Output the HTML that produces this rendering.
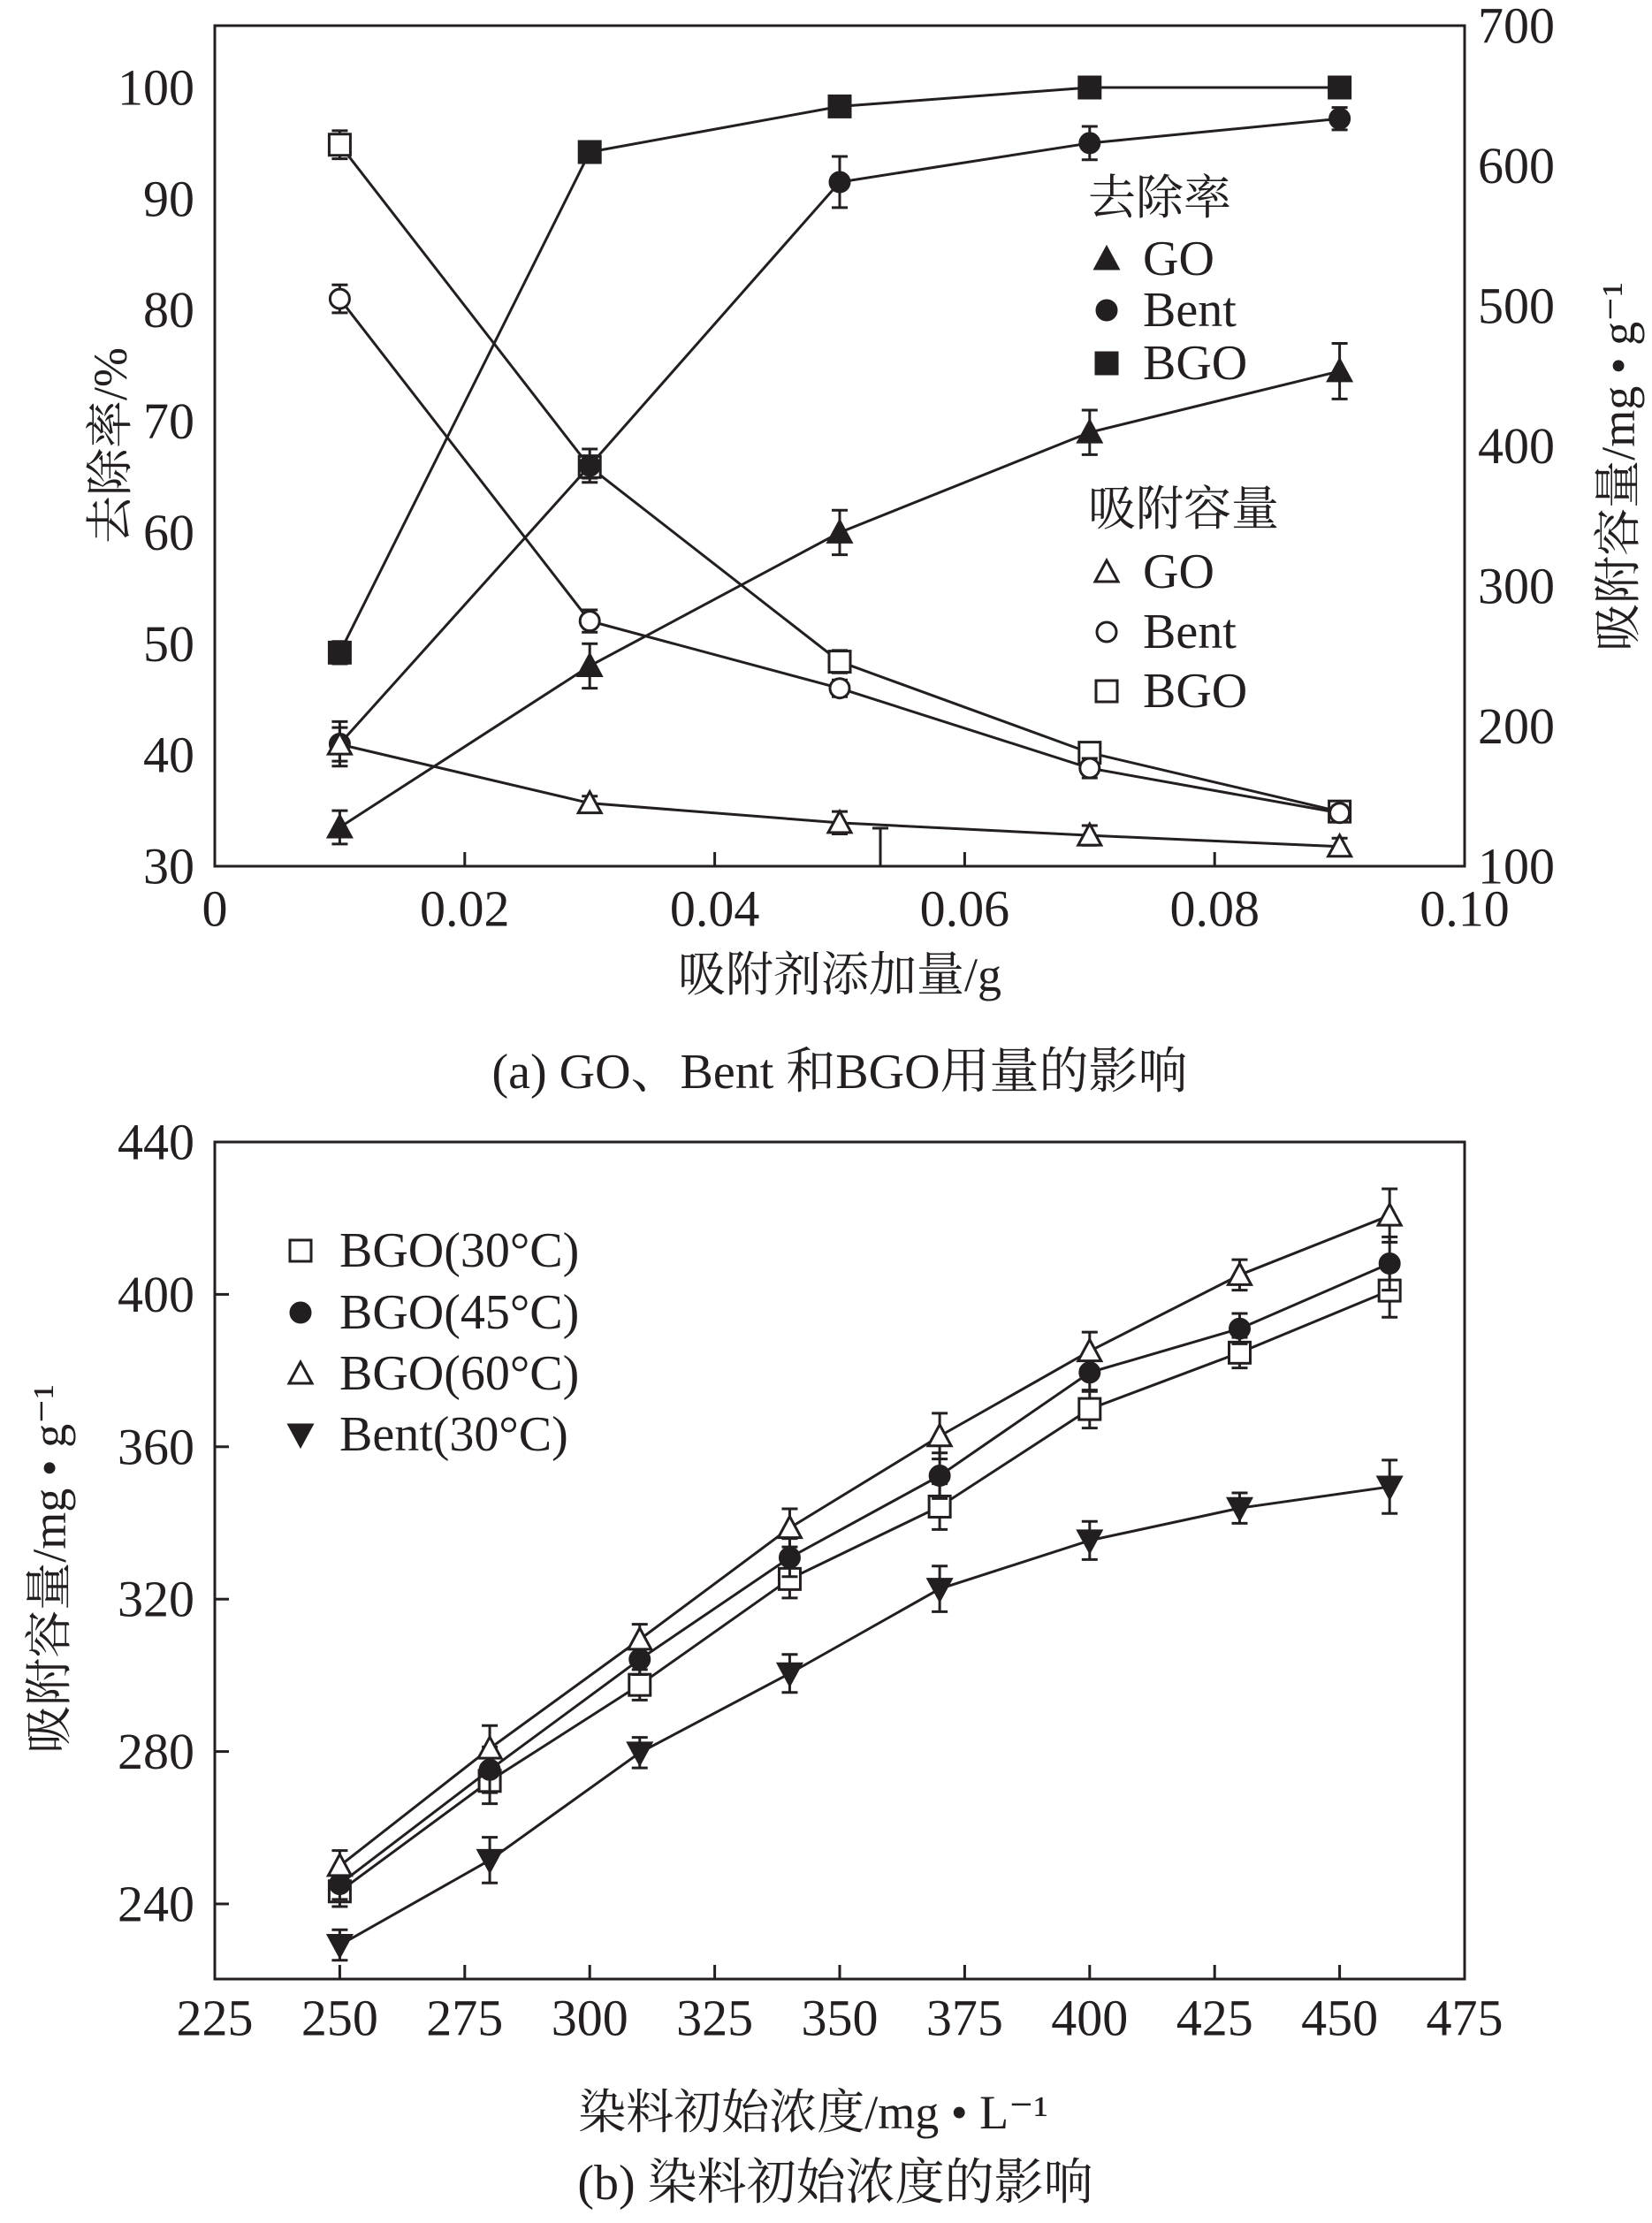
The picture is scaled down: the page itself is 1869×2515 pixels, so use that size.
<!DOCTYPE html>
<html><head><meta charset="utf-8"><style>
body{margin:0;background:#fff}
svg text{font-family:"Liberation Serif","Noto Serif CJK SC",serif;fill:#231f20}
</style></head><body>
<svg id="s" width="1869" height="2510" xmlns="http://www.w3.org/2000/svg"></svg>
<script>
// ---- chart (a) data ----
const aX = [0.01,0.03,0.05,0.07,0.09];
const aGoRem = [33.5,48,60,69,74.5];
const aGoRemErr = [1.5,2,2,2,2.5];
const aBentRem = [41,66,91.5,95,97.2];
const aBentRemErr = [2,1.5,2.3,1.5,1];
const aBgoRem = [49.2,94.2,98.3,100,100];
const aBgoRemErr = [1,0.8,0.5,0.3,0.5];
const aGoCap = [187,145,131,122,114];
const aGoCapErr = [12,5,8,7,6];
const aBentCap = [505,275,227,170,138];
const aBentCapErr = [10,8,6,7,5];
const aBgoCap = [615,385,246,181,139];
const aBgoCapErr = [10,8,8,6,6];
const aXTicks = [0,0.02,0.04,0.06,0.08,0.10];
const aXTickLabels = ["0","0.02","0.04","0.06","0.08","0.10"];
const aYTicks = [30,40,50,60,70,80,90,100];
const aY2Ticks = [100,200,300,400,500,600,700];
// ---- chart (b) data ----
const bX = [250,280,310,340,370,400,430,460];
const bBgo30 = [243.3,272.3,297.5,325.3,344.3,369.9,384.7,401];
const bBgo45 = [245.2,275.2,304.2,330.9,352.4,379.5,391,408.1];
const bBgo60 = [250,280.8,309.4,338.7,362.8,385.1,405.1,420.7];
const bBent = [229.2,251.5,279.7,300.5,322.7,335.4,343.9,349.5];
const bErr = [4,6,4,5,6,5,4,7];
const bXTicks = [225,250,275,300,325,350,375,400,425,450,475];
const bYTicks = [240,280,320,360,400,440];

const S = document.getElementById('s');
const NS = 'http://www.w3.org/2000/svg';
function el(tag, attrs, name, parent){
  const e = document.createElementNS(NS, tag);
  for (const k in attrs) e.setAttribute(k, attrs[k]);
  
  
  (parent||S).appendChild(e);
  return e;
}
function txt(x,y,s,size,name,anchor,rot){
  const t = el('text',{x:x,y:y,'font-size':size,'text-anchor':anchor||'middle','dominant-baseline':'central'},name);
  if (rot) t.setAttribute('transform',`rotate(${rot} ${x} ${y})`);
  t.textContent = s;
  return t;
}
const L=243,R=1657,K='#231f20';
function marker(type,x,y,name){
  const r=13;
  const filled = type[0]==='f';
  const st = {fill: filled?K:'#fff', stroke:K,'stroke-width':3};
  const sh = type.slice(1);
  if (sh==='sq') el('rect',Object.assign({x:x-r+1,y:y-r+1,width:2*r-2,height:2*r-2},st),name);
  else if (sh==='ci') el('circle',Object.assign({cx:x,cy:y,r:r-2},st),name);
  else if (sh==='tri') el('polygon',Object.assign({points:`${x},${y-r} ${x-r},${y+r-2} ${x+r},${y+r-2}`},st),name);
  else if (sh==='dtri') el('polygon',Object.assign({points:`${x},${y+r} ${x-r},${y-r+2} ${x+r},${y-r+2}`},st),name);
}
function series(xs,ys,errs,fx,fy,type,name){
  const pts = xs.map((x,i)=>[fx(x),fy(ys[i])]);
  el('polyline',{points:pts.map(p=>p.join(',')).join(' '),fill:'none',stroke:K,'stroke-width':3},name+'-line');
  pts.forEach((p,i)=>{
    const e=errs[i], y1=fy(ys[i]+e), y2=fy(ys[i]-e);
    el('line',{x1:p[0],x2:p[0],y1:y1,y2:y2,stroke:K,'stroke-width':3},name+'-errorbar');
    el('line',{x1:p[0]-9,x2:p[0]+9,y1:y1,y2:y1,stroke:K,'stroke-width':3},name+'-errorcap');
    el('line',{x1:p[0]-9,x2:p[0]+9,y1:y2,y2:y2,stroke:K,'stroke-width':3},name+'-errorcap');
    marker(type,p[0],p[1],name+'-point');
  });
}
// ===== chart a =====
{
  const T=29,B=980;
  const fx=v=>L+v/0.10*(R-L);
  const fy=v=>B-(v-30)*(B-99)/70;
  const fy2=v=>B-(v-100)*(B-T)/600;
  el('rect',{x:L,y:T,width:R-L,height:B-T,fill:'none',stroke:K,'stroke-width':3},'plot-a-frame');
  aXTicks.forEach((v,i)=>{
    if(i>0&&i<aXTicks.length-1) el('line',{x1:fx(v),x2:fx(v),y1:B,y2:B-16,stroke:K,'stroke-width':3},'x-tick-a');
    txt(fx(v),1028,aXTickLabels[i],58,'x-tick-label-a');
  });
  aYTicks.forEach(v=>txt(220,fy(v),String(v),58,'y-tick-label-a','end'));
  aY2Ticks.forEach(v=>txt(1672,fy2(v),String(v),58,'y2-tick-label-a','start'));
  series(aX,aBgoCap,aBgoCapErr,fx,fy2,'osq','bgo-capacity');
  series(aX,aGoRem,aGoRemErr,fx,fy,'ftri','go-removal');
  series(aX,aBentRem,aBentRemErr,fx,fy,'fci','bent-removal');
  series(aX,aBgoRem,aBgoRemErr,fx,fy,'fsq','bgo-removal');
  series(aX,aGoCap,aGoCapErr,fx,fy2,'otri','go-capacity');
  series(aX,aBentCap,aBentCapErr,fx,fy2,'oci','bent-capacity');
  el('line',{x1:996,x2:996,y1:937,y2:980,stroke:K,'stroke-width':3},'stray-errorbar');
  el('line',{x1:987,x2:1005,y1:937,y2:937,stroke:K,'stroke-width':3},'stray-errorcap');
  txt(125,504,'去除率/%',54,'y-axis-title-a','middle',-90);
  txt(1831,528,'吸附容量/mg • g⁻¹',54,'y2-axis-title-a','middle',-90);
  txt(950,1103,'吸附剂添加量/g',54,'x-axis-title-a');
  txt(950,1213,'(a) GO、Bent 和BGO用量的影响',56,'caption-a');
  txt(1231,224,'去除率',54,'legend-title-removal','start');
  [['ftri','GO',293],['fci','Bent',351],['fsq','BGO',411]].forEach(e=>{marker(e[0],1252,e[2],'legend-marker');txt(1293,e[2],e[1],56,'legend-label','start');});
  txt(1231,576,'吸附容量',54,'legend-title-capacity','start');
  [['otri','GO',647],['oci','Bent',715],['osq','BGO',782]].forEach(e=>{marker(e[0],1252,e[2],'legend-marker');txt(1293,e[2],e[1],56,'legend-label','start');});
}
// ===== chart b =====
{
  const T=1292,B=2239;
  const fx=v=>L+(v-225)/250*(R-L);
  const fy=v=>1292+(440-v)*172.4/40;
  el('rect',{x:L,y:T,width:R-L,height:B-T,fill:'none',stroke:K,'stroke-width':3},'plot-b-frame');
  bXTicks.forEach((v,i)=>{
    if(i>0&&i<bXTicks.length-1) el('line',{x1:fx(v),x2:fx(v),y1:B,y2:B-16,stroke:K,'stroke-width':3},'x-tick-b');
    txt(fx(v),2283,String(v),58,'x-tick-label-b');
  });
  bYTicks.forEach(v=>{
    if(v<440) el('line',{x1:L,x2:L+16,y1:fy(v),y2:fy(v),stroke:K,'stroke-width':3},'y-tick-b');
    txt(220,fy(v),String(v),58,'y-tick-label-b','end');
  });
  series(bX,bBgo30,bErr,fx,fy,'osq','bgo-30c');
  series(bX,bBgo45,bErr,fx,fy,'fci','bgo-45c');
  series(bX,bBgo60,bErr,fx,fy,'otri','bgo-60c');
  series(bX,bBent,bErr,fx,fy,'fdtri','bent-30c');
  [['osq','BGO(30°C)',1415],['fci','BGO(45°C)',1485],['otri','BGO(60°C)',1554],['fdtri','Bent(30°C)',1623]].forEach(e=>{marker(e[0],340,e[2],'legend-marker');txt(384,e[2],e[1],56,'legend-label','start');});
  txt(56,1775,'吸附容量/mg • g⁻¹',54,'y-axis-title-b','middle',-90);
  txt(920,2390,'染料初始浓度/mg • L⁻¹',54,'x-axis-title-b');
  txt(945,2470,'(b) 染料初始浓度的影响',56,'caption-b');
}
</script>
</body></html>
